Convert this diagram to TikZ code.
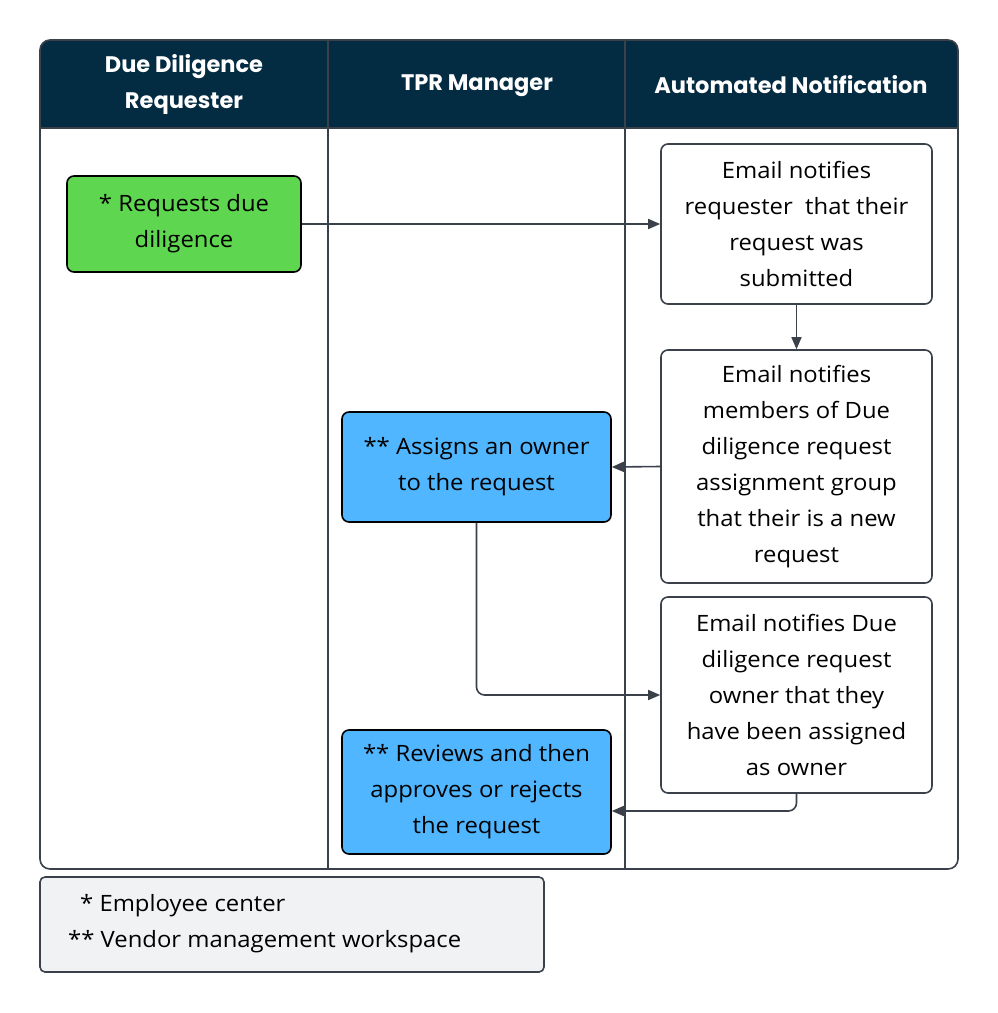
\documentclass[tikz,border=0pt]{standalone}
\usepackage{fontspec}
\setmainfont{Open Sans}[FakeStretch=1.06]
\newfontfamily\headfont{Poppins}[UprightFont=* Bold]
\usetikzlibrary{arrows.meta}
\definecolor{navy}{HTML}{032B42}
\definecolor{lineC}{HTML}{3A414A}
\definecolor{greenF}{HTML}{5FD650}
\definecolor{blueF}{HTML}{4FB6FF}
\definecolor{legendF}{HTML}{F1F2F4}
\tikzset{
  txt/.style={font=\fontsize{22.5}{36}\selectfont},
  box/.style={draw=lineC, line width=1.6pt, rounded corners=7pt, align=center,
    txt, inner sep=0pt},
  greenbox/.style={box, draw=black, fill=greenF},
  bluebox/.style={box, draw=black, fill=blueF},
  mailbox/.style={box, fill=white},
  conn/.style={draw=lineC, line width=1.6pt, -{Triangle[length=12pt,width=10pt]}},
  head/.style={text=white, align=center, font=\headfont\fontsize{22.5}{36}\selectfont},
  frame/.style={draw=lineC, line width=1.6pt}
}
\begin{document}
\begin{tikzpicture}[x=1pt,y=-1pt]
\useasboundingbox (0,0) rectangle (998,1013);
% lane frame
\begin{scope}
\clip[rounded corners=10pt] (40,40) rectangle (958,869);
\fill[navy] (40,40) rectangle (958,128);
\end{scope}
\draw[frame, rounded corners=10pt] (40,40) rectangle (958,869);
\draw[frame] (40,128) -- (958,128);
\draw[frame] (328,40) -- (328,869);
\draw[frame] (625,40) -- (625,869);
\node[head] (h1) at (184,84) {Due Diligence\\Requester};
\node[head] (h2) at (477,86) {TPR Manager};
\node[head] (h3) at (791,85) {Automated Notification};
% nodes
\node[greenbox, minimum width=234pt, minimum height=96pt] (g) at (184,224) {* Requests due\\diligence};
\node[mailbox, minimum width=271pt, minimum height=160pt] (e1) at (796.5,224) {Email notifies\\requester\ \ that their\\request was\\submitted};
\node[mailbox, minimum width=271pt, minimum height=233pt] (e2) at (796.5,466.5) {Email notifies\\members of Due\\diligence request\\assignment group\\that their is a new\\request};
\node[mailbox, minimum width=271pt, minimum height=196pt] (e3) at (796.5,695) {Email notifies Due\\diligence request\\owner that they\\have been assigned\\as owner};
\node[bluebox, minimum width=269pt, minimum height=110pt] (b1) at (476.5,467) {** Assigns an owner\\to the request};
\node[bluebox, minimum width=269pt, minimum height=124pt] (b2) at (476.5,792) {** Reviews and then\\approves or rejects\\the request};
% connectors
\draw[conn] (g.east) -- (e1.west);
\draw[conn] (e1.south) -- (e2.north);
\draw[conn] (e2.west) -- (b1.east);
\draw[conn, rounded corners=8pt] (b1.south) |- (e3.west);
\draw[conn, rounded corners=8pt] (e3.south) |- ([yshift=-19pt]b2.east);
% legend
\node[draw=lineC, line width=1.6pt, fill=legendF, rounded corners=5pt, minimum width=504pt, minimum height=95pt, inner sep=0pt] (leg) at (292,924.5) {};
\node[anchor=west, txt, inner sep=0pt] (l1) at (80,906) {* Employee center};
\node[anchor=west, txt, inner sep=0pt] (l2) at (68,942) {** Vendor management workspace};
\end{tikzpicture}
\end{document}
